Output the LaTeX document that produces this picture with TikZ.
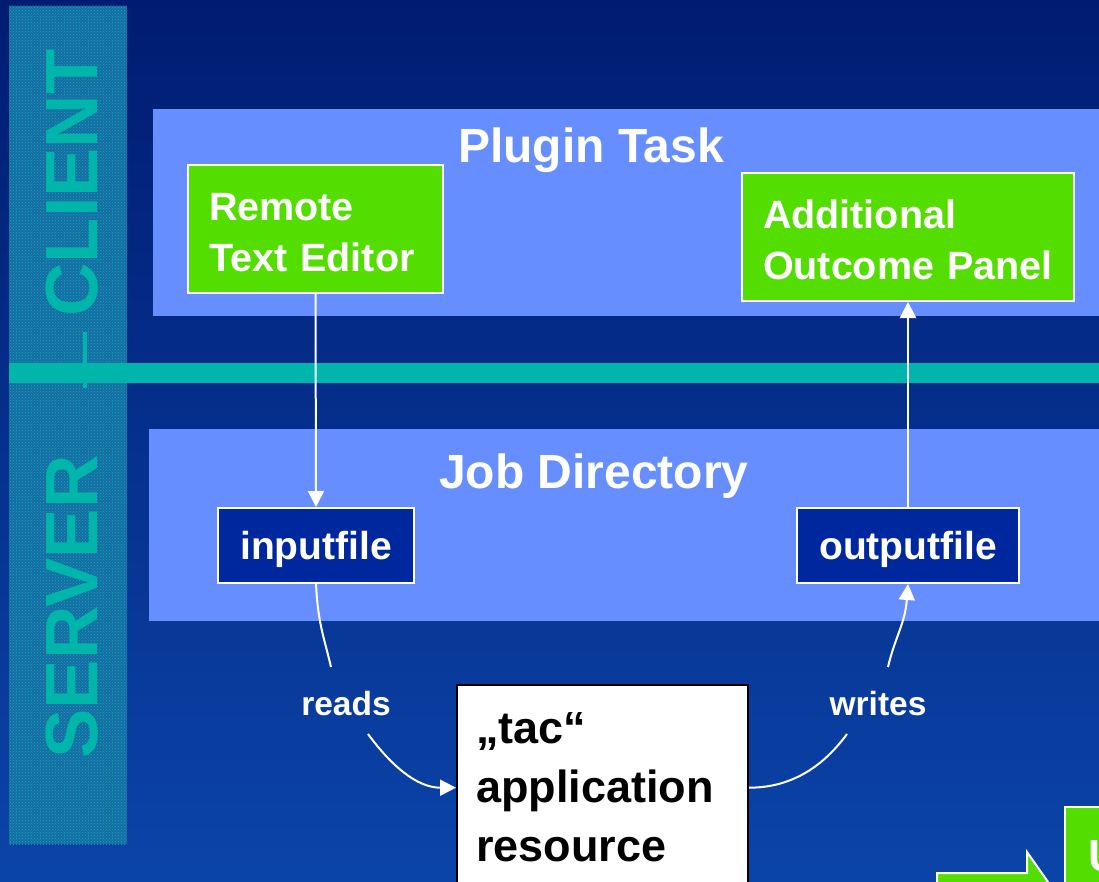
\documentclass[tikz,border=0pt]{standalone}
\usepackage{fontspec}
\setmainfont{Liberation Sans}
\usetikzlibrary{arrows.meta,patterns}

\definecolor{bgtop}{HTML}{001C72}
\definecolor{bgmid}{HTML}{0033A0}
\definecolor{bgbot}{HTML}{0B44A8}
\definecolor{stripbase}{HTML}{1A6AA6}
\definecolor{teal}{HTML}{00B5AA}
\definecolor{panelblue}{HTML}{668EFF}
\definecolor{boxgreen}{HTML}{54DD00}
\definecolor{filecol}{HTML}{00289E}

\tikzset{
  panel/.style={fill=panelblue, inner sep=0pt, anchor=north west},
  paneltitle/.style={text=white, font=\bfseries\fontsize{48}{56}\selectfont, anchor=base},
  greenbox/.style={fill=boxgreen, draw=white, line width=2pt, text=white,
    font=\bfseries\fontsize{39.5}{51}\selectfont, align=left, text depth=45pt,
    inner xsep=21pt, inner ysep=0pt, minimum height=128pt, anchor=north west},
  filebox/.style={fill=filecol, draw=white, line width=2pt, text=white,
    font=\bfseries\fontsize{39}{47}\selectfont, inner sep=0pt,
    text height=28pt, text depth=0pt, minimum height=75pt, anchor=north west},
  appbox/.style={fill=white, draw=black, line width=2pt, text=black,
    font=\bfseries\fontsize{45}{59}\selectfont, align=left,
    inner xsep=19pt, inner ysep=28pt, anchor=north west},
  conn/.style={draw=white, line width=2pt},
  tip/.style={-{Triangle[width=16pt,length=16pt]}},
  edgelabel/.style={text=white, font=\bfseries\fontsize{33.5}{40}\selectfont},
  sidelabel/.style={text=teal, font=\bfseries\fontsize{74}{80}\selectfont, rotate=90}
}

\begin{document}
\begin{tikzpicture}[x=1pt, y=-1pt]
  \useasboundingbox (0,0) rectangle (1099,882);
  \clip (0,0) rectangle (1099,882);

  % backdrop
  \shade[top color=bgtop, middle color=bgmid, bottom color=bgbot] (0,0) rectangle (1099,882);

  % client / server side strip
  \fill[stripbase] (9,6) rectangle (127,844);
  \fill[pattern=crosshatch dots, pattern color=teal] (9,6) rectangle (127,844);
  \node[sidelabel] (client) at (72,183) {CLIENT};
  \node[sidelabel] (server) at (72,607) {SERVER};
  \fill[teal] (83,332) rectangle (87,388);

  % client/server boundary
  \fill[teal] (9,363) rectangle (1099,383);

  % plugin task panel (client side)
  \node[panel, minimum width=946pt, minimum height=207pt] (plugin) at (153,109) {};
  \node[paneltitle] (plugintitle) at (591,163) {Plugin Task};
  \node[greenbox, text width=213pt] (rte) at (187,164) {Remote\\Text Editor};
  \node[greenbox, text width=290pt] (aop) at (741,172) {Additional\\Outcome Panel};

  % job directory panel (server side)
  \node[panel, minimum width=950pt, minimum height=192pt] (jobdir) at (149,429) {};
  \node[paneltitle] (jobtitle) at (594,488) {Job Directory};
  \node[filebox, minimum width=196pt] (inp) at (217,507) {inputfile};
  \node[filebox, minimum width=222pt] (out) at (796,507) {outputfile};

  % application resource
  \node[appbox, text width=253pt] (tac) at (456,684) {„tac“\\application\\resource};

  % connectors
  \draw[conn, tip] (rte.south) -- (inp.north);
  \draw[conn, tip] (out.north) -- (aop.south);

  \coordinate (rA) at (331,667);
  \coordinate (rB) at (368,734);
  \node[edgelabel] (reads) at (346,704) {reads};
  \draw[conn] (inp.south) .. controls +(2,40) and +(-7,-30) .. (rA);
  \draw[conn, tip] (rB) .. controls +(22,30) and +(-40,0) .. (tac.west);

  \coordinate (wB) at (847,734);
  \coordinate (wA) at (888,667);
  \node[edgelabel] (writes) at (878,704) {writes};
  \draw[conn] (tac.east) .. controls +(45,0) and +(-22,30) .. (wB);
  \draw[conn, tip] (wA) .. controls +(7,-30) and +(-3,40) .. (out.south);

  % next-step block arrow and button at the lower right
  \filldraw[fill=boxgreen, draw=white, line width=2pt]
    (937,960) -- (937,873) -- (1027,873) -- (1027,852) -- (1069,912)
    -- (1027,972) -- (1027,960) -- cycle;
  \node[fill=boxgreen, draw=white, line width=2pt, anchor=north west,
        minimum width=100pt, minimum height=120pt] (ubox) at (1064,806) {};
  \node[text=white, font=\bfseries\fontsize{45}{54}\selectfont, anchor=base west,
        inner sep=0pt] (ulabel) at (1088,871) {U};
\end{tikzpicture}
\end{document}
